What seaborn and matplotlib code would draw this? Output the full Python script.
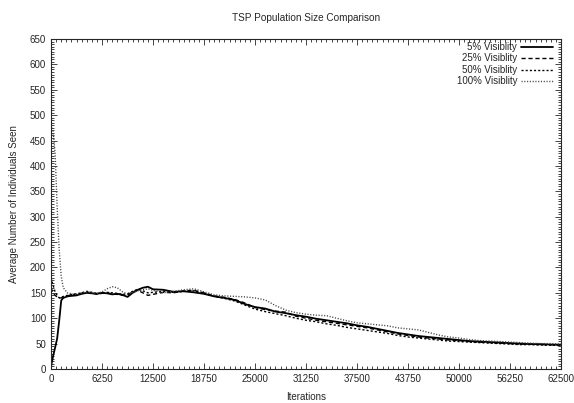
import numpy as np
import pandas as pd
import matplotlib
matplotlib.use('Agg')
import matplotlib.pyplot as plt
from matplotlib.ticker import MultipleLocator
import seaborn as sns

iters = [0, 250, 500, 750, 1000, 1250, 1500, 2000, 2500,
         3125, 3750, 4375, 5000, 5625, 6250, 6875, 7500, 8125, 8750,
         9375, 10000, 10625, 11250, 11875, 12500,
         13750, 15000, 16250, 17500, 18750, 20000, 21250, 22500, 23750,
         25000, 26250, 27500, 28750, 30000, 31250, 32500, 33750, 35000,
         36250, 37500, 38750, 40000, 41250, 42500, 43750, 45000, 46250,
         47500, 48750, 50000, 51250, 52500, 53750, 55000, 56250, 57500,
         58750, 60000, 61250, 62500]

vis5 = [5, 25, 42, 60, 95, 135, 140, 143, 144,
        145, 148, 150, 149, 148, 150, 149, 147, 148, 146,
        142, 150, 156, 160, 162, 157,
        156, 152, 153, 151, 148, 143, 140, 136, 128,
        122, 119, 113, 110, 106, 103, 99, 96, 93,
        90, 86, 83, 79, 75, 71, 68, 65, 63,
        61, 59, 57, 55, 54, 53, 52, 51, 50,
        49, 49, 48, 48]

vis25 = [160, 150, 145, 142, 140, 140, 142, 144, 146,
         147, 149, 151, 150, 147, 149, 150, 148, 147, 145,
         146, 152, 155, 150, 145, 147,
         151, 150, 154, 155, 150, 144, 141, 137, 130,
         121, 117, 114, 112, 104, 100, 96, 93, 90,
         87, 84, 81, 77, 73, 69, 66, 63, 61,
         59, 57, 56, 54, 53, 52, 51, 50, 49,
         49, 48, 48, 47]

vis50 = [180, 165, 152, 145, 140, 141, 143, 145, 147,
         148, 150, 153, 151, 149, 150, 151, 150, 149, 147,
         148, 153, 157, 154, 150, 151,
         153, 151, 153, 154, 149, 143, 139, 134, 126,
         118, 113, 109, 105, 100, 96, 93, 89, 86,
         82, 79, 76, 73, 70, 66, 63, 61, 59,
         57, 55, 54, 53, 52, 51, 50, 49, 48,
         48, 47, 47, 46]

vis100 = [480, 470, 425, 320, 235, 182, 160, 150, 148,
          147, 150, 152, 150, 149, 152, 158, 162, 160, 152,
          148, 150, 154, 156, 158, 155,
          150, 153, 156, 158, 152, 146, 144, 143, 142,
          140, 136, 125, 116, 111, 108, 106, 105, 100,
          95, 91, 89, 87, 85, 81, 79, 77, 72,
          67, 63, 61, 58, 56, 55, 54, 53, 52,
          51, 50, 50, 49]

labels = ['5% Visiblity', '25% Visiblity', '50% Visiblity', '100% Visiblity']
series = [vis5, vis25, vis50, vis100]
styles = [dict(linestyle='-', linewidth=1.3, color='black'),
          dict(linestyle=(0, (3, 2)), linewidth=1.0, color='black'),
          dict(linestyle=(0, (1.5, 1.5)), linewidth=1.0, color='black'),
          dict(linestyle=(0, (0.8, 1.2)), linewidth=1.0, color='#444444')]

sns.set_style('ticks')
plt.rcParams['font.family'] = ['Liberation Sans', 'DejaVu Sans']
plt.rcParams['font.size'] = 7

fig = plt.figure(figsize=(5.74, 4.03), dpi=100)
ax = fig.add_axes([0.0889, 0.0844, 0.8885, 0.8188])

for lab, vals, st in zip(labels, series, styles):
    sns.lineplot(x=iters, y=vals, ax=ax, label=lab, **st)

ax.set_xlim(0, 62500)
ax.set_ylim(0, 650)
ax.xaxis.set_major_locator(MultipleLocator(6250))
ax.xaxis.set_minor_locator(MultipleLocator(625))
ax.yaxis.set_major_locator(MultipleLocator(50))
ax.yaxis.set_minor_locator(MultipleLocator(5))
ax.tick_params(which='both', direction='in', top=True, right=True,
               labelsize=7, width=0.6)
ax.tick_params(which='major', length=4)
ax.tick_params(which='minor', length=2)
for sp in ax.spines.values():
    sp.set_linewidth(0.8)

ax.set_title('TSP Population Size Comparison', fontsize=7.2, pad=13)
ax.set_xlabel('Iterations', fontsize=7, labelpad=6)
ax.set_ylabel('Average Number of Individuals Seen', fontsize=7, labelpad=8)

ax.legend(loc='upper right', bbox_to_anchor=(1 - 8 / 510, 1 - 3 / 330),
          frameon=False, markerfirst=False, handlelength=3.3, fontsize=7,
          labelspacing=0.15, borderaxespad=0, borderpad=0, handletextpad=0.4)

plt.savefig('out.png', dpi=100)
plt.close()
